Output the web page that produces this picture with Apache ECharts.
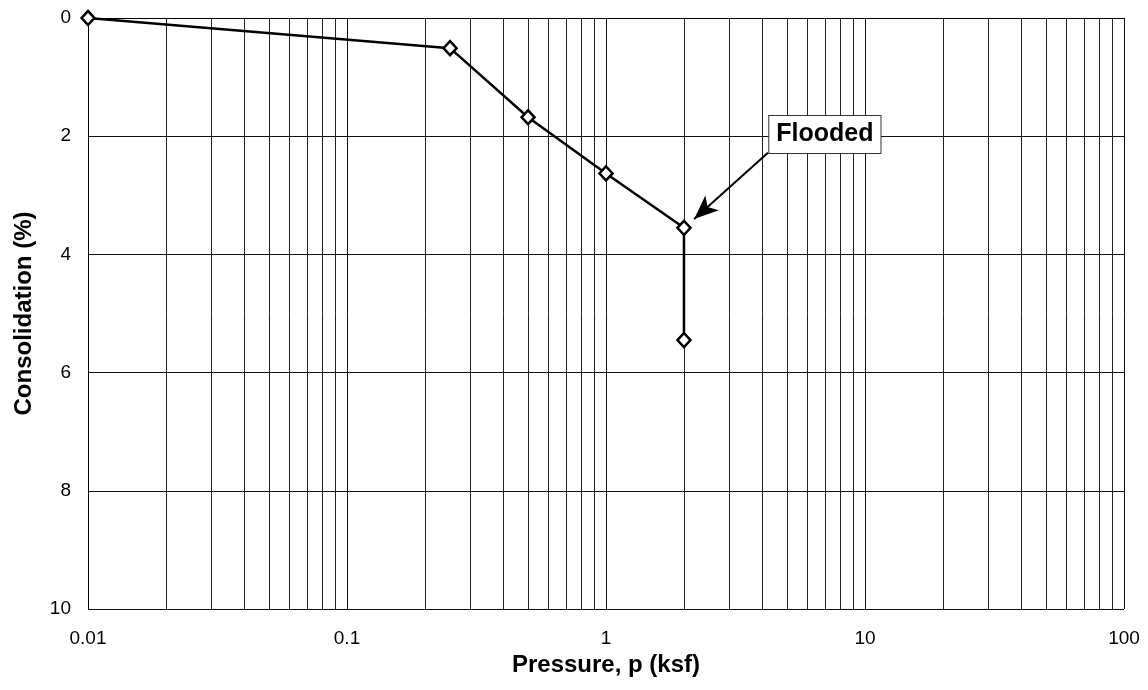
<!DOCTYPE html>
<html>
<head>
<meta charset="utf-8">
<script src="https://cdn.jsdelivr.net/npm/echarts@6/dist/echarts.min.js"></script>
<style>
html,body{margin:0;padding:0;background:#fff;}
#chart{width:1148px;height:690px;}
</style>
</head>
<body>
<div id="chart"></div>
<script>
// Data
const pressure = [0.01, 0.25, 0.5, 1, 2, 2];
const consolidation = [0, 0.51, 1.68, 2.63, 3.55, 5.45];
const xTickLabels = ['0.01', '0.1', '1', '10', '100'];
const yTickLabels = ['0', '2', '4', '6', '8', '10'];
const decades = [0.01, 0.1, 1, 10];
const minorMultipliers = [2, 3, 4, 5, 6, 7, 8, 9];
// annotation "Flooded": label position and arrow in data coordinates
const annotText = 'Flooded';
const annotLabelAt = [7.0, 1.97];
const annotArrowFrom = [4.22, 2.28];
const annotArrowTo = [2.19, 3.40];

const minorX = [];
decades.forEach(d => minorMultipliers.forEach(m => minorX.push(+(d * m).toPrecision(3))));

const FONT = '"Liberation Sans", Arial, sans-serif';
const chart = echarts.init(document.getElementById('chart'), null, {renderer: 'canvas'});

chart.setOption({
  animation: false,
  backgroundColor: '#ffffff',
  grid: {left: 88, top: 18, right: 24, bottom: 81, containLabel: false},
  xAxis: {
    type: 'log', logBase: 10, min: 0.01, max: 100,
    name: 'Pressure, p (ksf)', nameLocation: 'middle', nameGap: 40,
    nameTextStyle: {fontFamily: FONT, fontSize: 24, fontWeight: 'bold', color: '#000'},
    axisLine: {show: true, lineStyle: {color: '#000', width: 1}},
    axisTick: {show: false},
    axisLabel: {
      fontFamily: FONT, fontSize: 19, color: '#000', margin: 20,
      formatter: function (v) {
        const i = Math.round(Math.log10(v) + 2);
        return xTickLabels[i] !== undefined ? xTickLabels[i] : '';
      }
    },
    splitLine: {show: true, lineStyle: {color: '#111', width: 1}},
    minorTick: {show: false}, minorSplitLine: {show: false}
  },
  yAxis: {
    type: 'value', inverse: true, min: 0, max: 10, interval: 2,
    name: 'Consolidation (%)', nameLocation: 'middle', nameGap: 52,
    nameTextStyle: {fontFamily: FONT, fontSize: 24, fontWeight: 'bold', color: '#000'},
    axisLine: {show: true, lineStyle: {color: '#000', width: 1}},
    axisTick: {show: false},
    axisLabel: {
      fontFamily: FONT, fontSize: 19, color: '#000', margin: 17,
      formatter: function (v) { return yTickLabels[Math.round(v / 2)]; }
    },
    splitLine: {show: true, lineStyle: {color: '#111', width: 1}}
  },
  series: [
    {
      type: 'line', silent: true, data: [], symbol: 'none',
      markLine: {
        silent: true, symbol: ['none', 'none'], animation: false,
        label: {show: false},
        lineStyle: {color: '#222', width: 1, type: 'solid'},
        data: minorX.map(v => ({xAxis: v}))
      }
    },
    {
      type: 'line', silent: true, data: [], symbol: 'none',
      markLine: {
        silent: true, symbol: ['none', 'arrow'], symbolSize: [15, 24], animation: false,
        label: {show: false},
        lineStyle: {color: '#000', width: 2, type: 'solid'},
        data: [[{coord: annotArrowFrom}, {coord: annotArrowTo}]]
      },
      markPoint: {
        silent: true, symbol: 'rect', symbolSize: 1, itemStyle: {color: 'rgba(0,0,0,0)'},
        label: {
          show: true, position: 'inside', formatter: annotText,
          fontFamily: FONT, fontSize: 25, fontWeight: 'bold', color: '#000',
          backgroundColor: '#fff', borderColor: '#333', borderWidth: 1,
          padding: [6, 7, 6, 7]
        },
        data: [{coord: annotLabelAt}]
      },
      z: 5
    },
    {
      type: 'line', clip: false, z: 10,
      data: pressure.map((p, i) => [p, consolidation[i]]),
      lineStyle: {color: '#000', width: 2.5},
      symbol: 'diamond', symbolSize: [13, 14],
      itemStyle: {color: '#fff', borderColor: '#000', borderWidth: 2.5}
    }
  ]
});
</script>
</body>
</html>
